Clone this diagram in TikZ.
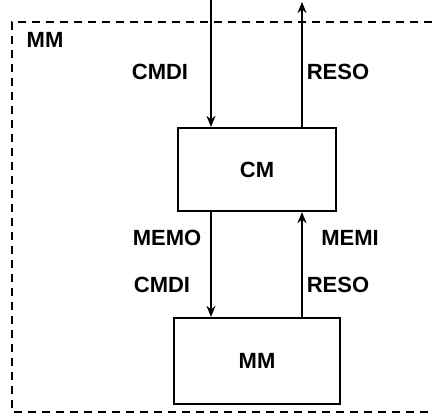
\documentclass[tikz,border=0pt]{standalone}
\usepackage{fontspec}
\setmainfont{Liberation Sans}
\usetikzlibrary{arrows.meta}
\begin{document}
\begin{tikzpicture}[x=1pt,y=-1pt,
  lbl/.style={font=\fontsize{22}{22}\selectfont\bfseries, inner sep=0pt},
  blk/.style={draw, line width=2.2pt, font=\fontsize{22}{22}\selectfont\bfseries},
  sig/.style={line width=2pt, -{Stealth[length=11pt,width=9pt]}},
  bnd/.style={line width=2pt, dash pattern=on 8pt off 6pt}]
\useasboundingbox (0,0) rectangle (432,420);
\draw[bnd] (432,22) -- (12,22) -- (12,412) -- (432,412);
\node[lbl] (outer) at (45,40) {MM};
\node[blk, minimum width=158pt, minimum height=83pt] (cm) at (257,169.5) {CM};
\node[blk, minimum width=166pt, minimum height=86pt] (mm) at (257,361) {MM};
\coordinate (in) at (211,0);
\coordinate (out) at (302,2);
\draw[sig] (in) -- (in |- cm.north);
\draw[sig] (out |- cm.north) -- (out);
\draw[sig] (in |- cm.south) -- (in |- mm.north);
\draw[sig] (out |- mm.north) -- (out |- cm.south);
\node[lbl] (l1) at (160,72) {CMDI};
\node[lbl] (l2) at (338,72) {RESO};
\node[lbl] (l3) at (167,238) {MEMO};
\node[lbl] (l4) at (350,238) {MEMI};
\node[lbl] (l5) at (162,285) {CMDI};
\node[lbl] (l6) at (338,285) {RESO};
\end{tikzpicture}
\end{document}
